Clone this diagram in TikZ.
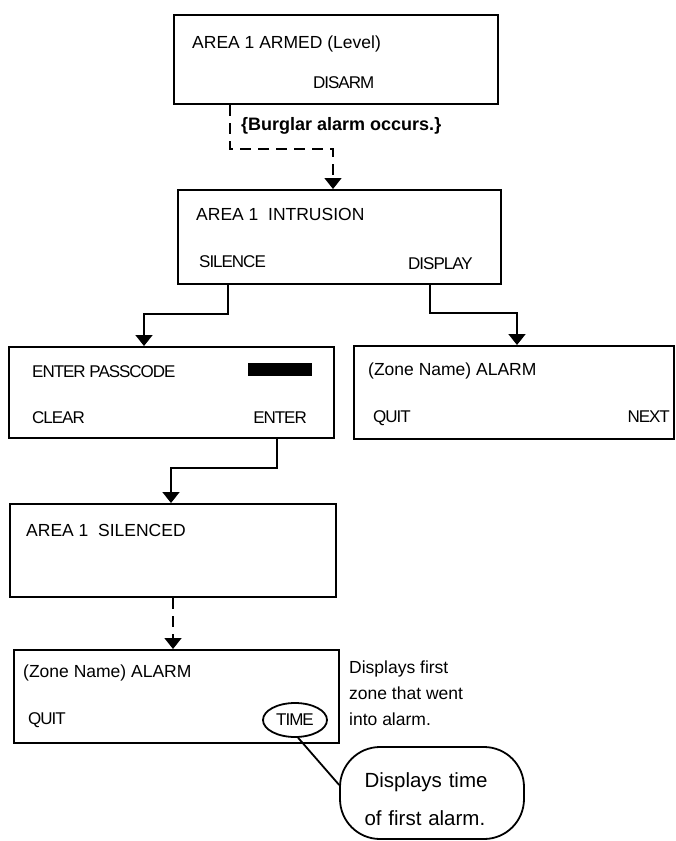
\documentclass[tikz,border=0pt]{standalone}
\usepackage{fontspec}
\setmainfont{Liberation Sans}
\newfontfamily\keyfont{Liberation Sans}[LetterSpace=-6]
\usetikzlibrary{arrows.meta,shapes.geometric}

\begin{document}
\begin{tikzpicture}[x=1pt,y=-1pt,line cap=round,
  >={Triangle[width=17pt,length=11pt]},
  font=\fontsize{17.5}{20}\selectfont,
  screen/.style={draw,line width=2pt,minimum width=325pt,minimum height=92pt,anchor=north west,inner sep=0pt},
  txt/.style={anchor=base west,inner sep=0pt},
  key/.style={anchor=base west,inner sep=0pt,font=\fontsize{17}{20}\selectfont\keyfont},
  flow/.style={->,line width=1.8pt,line cap=butt},
  dashflow/.style={flow,line width=1.6pt,dash pattern=on 11pt off 7pt}]
\useasboundingbox (0,0) rectangle (675,841);

% armed screen
\node[screen,minimum width=324pt,minimum height=89pt] (armed) at (173,14) {};
\node[txt] (armedtitle) at (192,48) {AREA 1 ARMED (Level)};
\node[key] (disarm) at (313,88) {DISARM};
\node[txt,font=\fontsize{18}{20}\selectfont\bfseries] (burglar) at (241,130) {\{Burglar alarm occurs.\}};

% intrusion screen
\node[screen,minimum width=323pt,minimum height=94pt] (intrusion) at (177,189) {};
\node[txt] (intrtitle) at (196,220) {AREA 1\ \ INTRUSION};
\node[key] (silence) at (199,267) {SILENCE};
\node[key] (display) at (408,269) {DISPLAY};

% passcode screen
\node[screen,minimum height=91pt] (passcode) at (8,346) {};
\node[key] (passtitle) at (32,377) {ENTER PASSCODE};
\node[fill,inner sep=0pt,minimum width=64pt,minimum height=13pt,anchor=north west] (passbar) at (248,363) {};
\node[key] (clear) at (32,423) {CLEAR};
\node[key,anchor=base east] (enter) at (307,423) {ENTER};

% zone list screen
\node[screen,minimum width=320pt,minimum height=93pt] (zonelist) at (353,345) {};
\node[txt] (zonetitle) at (368,375) {(Zone Name) ALARM};
\node[key] (quitlist) at (373,422) {QUIT};
\node[key,anchor=base east] (next) at (670,422) {NEXT};

% silenced screen
\node[screen,minimum width=326pt,minimum height=93pt] (silenced) at (9,503) {};
\node[txt] (silencedtitle) at (26,536) {AREA 1\ \ SILENCED};

% first zone screen
\node[screen,minimum height=93pt] (firstzone) at (13,649) {};
\node[txt] (firsttitle) at (23,677) {(Zone Name) ALARM};
\node[key] (quitfirst) at (28,724) {QUIT};
\node[key,draw,ellipse,line width=1.8pt,anchor=center,minimum width=64pt,minimum height=34pt] (timeoval) at (295,720) {TIME};
\node[anchor=north west,align=left,inner sep=0pt,font=\fontsize{17.5}{26}\selectfont] (sidenote) at (349,661) {Displays first\\zone that went\\into alarm.};
\node[draw,line width=1.8pt,rounded corners=40pt,minimum width=184pt,minimum height=92pt,text width=135pt,align=left,inner sep=0pt,font=\fontsize{20.5}{38}\selectfont] (timenote) at (432,793) {\rule{0pt}{27pt}Displays time\\of first alarm.};

% connectors
\draw[dashflow] ([xshift=57pt]armed.south west) -- ++(0,44) -| ([xshift=156pt]intrusion.north west);
\draw[flow] ([xshift=51pt]intrusion.south west) -- ++(0,29) -| ([xshift=136pt]passcode.north west);
\draw[flow] ([xshift=253pt]intrusion.south west) -- ++(0,28) -| ([xshift=164pt]zonelist.north west);
\draw[flow] ([xshift=269pt]passcode.south west) -- ++(0,29) -| ([xshift=162pt]silenced.north west);
\draw[dashflow] ([xshift=164pt]silenced.south west) -- ([xshift=160pt]firstzone.north west);
\draw[line width=1.8pt] (timeoval.-80) -- (timenote.175);
\end{tikzpicture}
\end{document}
